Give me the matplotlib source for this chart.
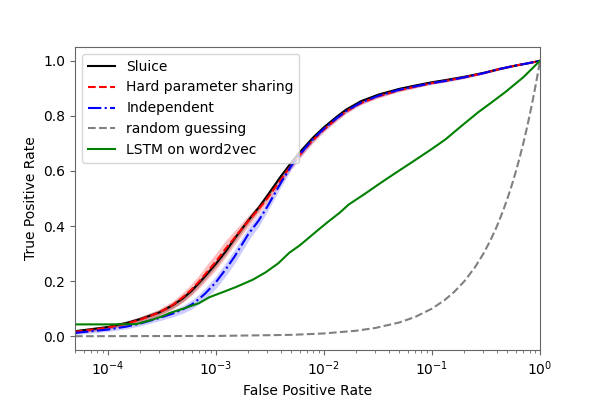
import numpy as np
import matplotlib
matplotlib.use("Agg")
import matplotlib.pyplot as plt

# ROC curves (log x axis)
fpr = [5e-5, 1e-4, 1.5e-4, 2e-4, 3e-4, 4e-4, 5e-4, 6e-4, 7e-4, 8e-4, 1e-3,
       1.25e-3, 1.5e-3, 2e-3, 2.5e-3, 3e-3, 4e-3, 5e-3, 6e-3, 7e-3, 8e-3,
       1e-2, 1.3e-2, 1.6e-2, 2.2e-2, 3.2e-2, 5e-2, 7e-2, 0.1, 0.134, 0.2,
       0.3, 0.42, 0.6, 0.8, 1.0]

tpr_sluice = [0.018, 0.033, 0.048, 0.062, 0.086, 0.112, 0.138, 0.165, 0.193,
              0.218, 0.262, 0.310, 0.355, 0.420, 0.467, 0.510, 0.580, 0.630,
              0.668, 0.697, 0.722, 0.758, 0.795, 0.822, 0.853, 0.877, 0.898,
              0.910, 0.922, 0.930, 0.942, 0.956, 0.970, 0.983, 0.992, 1.0]
err_sluice = [0.006, 0.007, 0.008, 0.009, 0.010, 0.011, 0.012, 0.012, 0.012,
              0.012, 0.012, 0.012, 0.012, 0.012, 0.011, 0.011, 0.010, 0.010,
              0.009, 0.009, 0.008, 0.008, 0.007, 0.007, 0.006, 0.006, 0.005,
              0.005, 0.004, 0.004, 0.004, 0.003, 0.003, 0.002, 0.001, 0.0]

tpr_hard = [0.016, 0.031, 0.046, 0.060, 0.086, 0.113, 0.142, 0.170, 0.198,
            0.225, 0.270, 0.320, 0.358, 0.418, 0.462, 0.500, 0.568, 0.620,
            0.658, 0.688, 0.713, 0.750, 0.788, 0.815, 0.846, 0.871, 0.893,
            0.906, 0.919, 0.927, 0.940, 0.955, 0.970, 0.983, 0.992, 1.0]
err_hard = [0.006, 0.007, 0.008, 0.010, 0.012, 0.015, 0.018, 0.021, 0.024,
            0.027, 0.030, 0.030, 0.026, 0.020, 0.016, 0.014, 0.012, 0.012,
            0.011, 0.010, 0.010, 0.009, 0.008, 0.007, 0.006, 0.006, 0.005,
            0.005, 0.004, 0.004, 0.004, 0.003, 0.003, 0.002, 0.001, 0.0]

tpr_indep = [0.012, 0.024, 0.035, 0.046, 0.066, 0.082, 0.098, 0.115, 0.135,
             0.155, 0.195, 0.245, 0.290, 0.370, 0.420, 0.470, 0.556, 0.618,
             0.660, 0.691, 0.717, 0.753, 0.790, 0.817, 0.848, 0.873, 0.895,
             0.907, 0.919, 0.927, 0.940, 0.955, 0.970, 0.983, 0.992, 1.0]
err_indep = [0.006, 0.007, 0.008, 0.009, 0.010, 0.012, 0.014, 0.016, 0.018,
             0.020, 0.022, 0.024, 0.025, 0.024, 0.021, 0.018, 0.015, 0.013,
             0.012, 0.011, 0.010, 0.009, 0.008, 0.007, 0.006, 0.006, 0.005,
             0.005, 0.004, 0.004, 0.004, 0.003, 0.003, 0.002, 0.001, 0.0]

rand_fpr = [5e-5, 1e-3, 5e-3, 0.01, 0.02, 0.03, 0.05, 0.07, 0.1, 0.13, 0.16,
            0.2, 0.25, 0.3, 0.35, 0.4, 0.45, 0.5, 0.55, 0.6, 0.65, 0.7, 0.75,
            0.8, 0.85, 0.9, 0.95, 1.0]
rand_tpr = [5e-5, 1e-3, 5e-3, 0.01, 0.02, 0.03, 0.05, 0.07, 0.1, 0.13, 0.16,
            0.2, 0.25, 0.3, 0.35, 0.4, 0.45, 0.5, 0.55, 0.6, 0.65, 0.7, 0.75,
            0.8, 0.85, 0.9, 0.95, 1.0]

lstm_fpr = [5e-5, 1e-4, 1.85e-4, 2.5e-4, 3.2e-4, 3.75e-4, 5e-4, 7e-4, 8.8e-4,
            1.2e-3, 1.55e-3, 2.2e-3, 2.9e-3, 3.8e-3, 4.8e-3, 6e-3, 7.3e-3,
            9e-3, 1.1e-2, 1.4e-2, 1.7e-2, 2.4e-2, 3.2e-2, 4.5e-2, 6.5e-2, 0.1,
            0.134, 0.19, 0.27, 0.36, 0.48, 0.7, 1.0]
lstm_tpr = [0.043, 0.043, 0.044, 0.058, 0.072, 0.084, 0.100, 0.120, 0.142,
            0.162, 0.179, 0.205, 0.232, 0.265, 0.303, 0.330, 0.358, 0.388,
            0.416, 0.448, 0.478, 0.517, 0.551, 0.590, 0.631, 0.680, 0.715,
            0.765, 0.814, 0.850, 0.887, 0.940, 1.0]

fig, ax = plt.subplots(figsize=(6, 4), dpi=100)
fig.subplots_adjust(left=0.125, right=0.9, bottom=0.125, top=0.8825)

def band(tpr, err, color, alpha):
    t = np.array(tpr)
    e = np.array(err)
    ax.fill_between(fpr, t - e, t + e, color=color, alpha=alpha, lw=0)

band(tpr_sluice, err_sluice, 'black', 0.25)
band(tpr_hard, err_hard, 'red', 0.25)
band(tpr_indep, err_indep, 'blue', 0.2)

ax.plot(fpr, tpr_sluice, color='black', lw=1.5, label='Sluice')
ax.plot(fpr, tpr_hard, color='red', ls='--', lw=1.5, label='Hard parameter sharing')
ax.plot(fpr, tpr_indep, color='blue', ls='-.', lw=1.5, label='Independent')
ax.plot(rand_fpr, rand_tpr, color='gray', ls='--', lw=1.5, label='random guessing')
ax.plot(lstm_fpr, lstm_tpr, color='green', lw=1.5, label='LSTM on word2vec')

ax.set_xscale('log')
ax.set_xlim(5e-5, 1)
ax.set_ylim(-0.05, 1.05)
ax.set_xlabel('False Positive Rate')
ax.set_ylabel('True Positive Rate')
for s in ax.spines.values():
    s.set_color('#666666')
ax.tick_params(which='both', color='#666666')
ax.legend(loc='upper left')

plt.savefig('out.png', dpi=100)
